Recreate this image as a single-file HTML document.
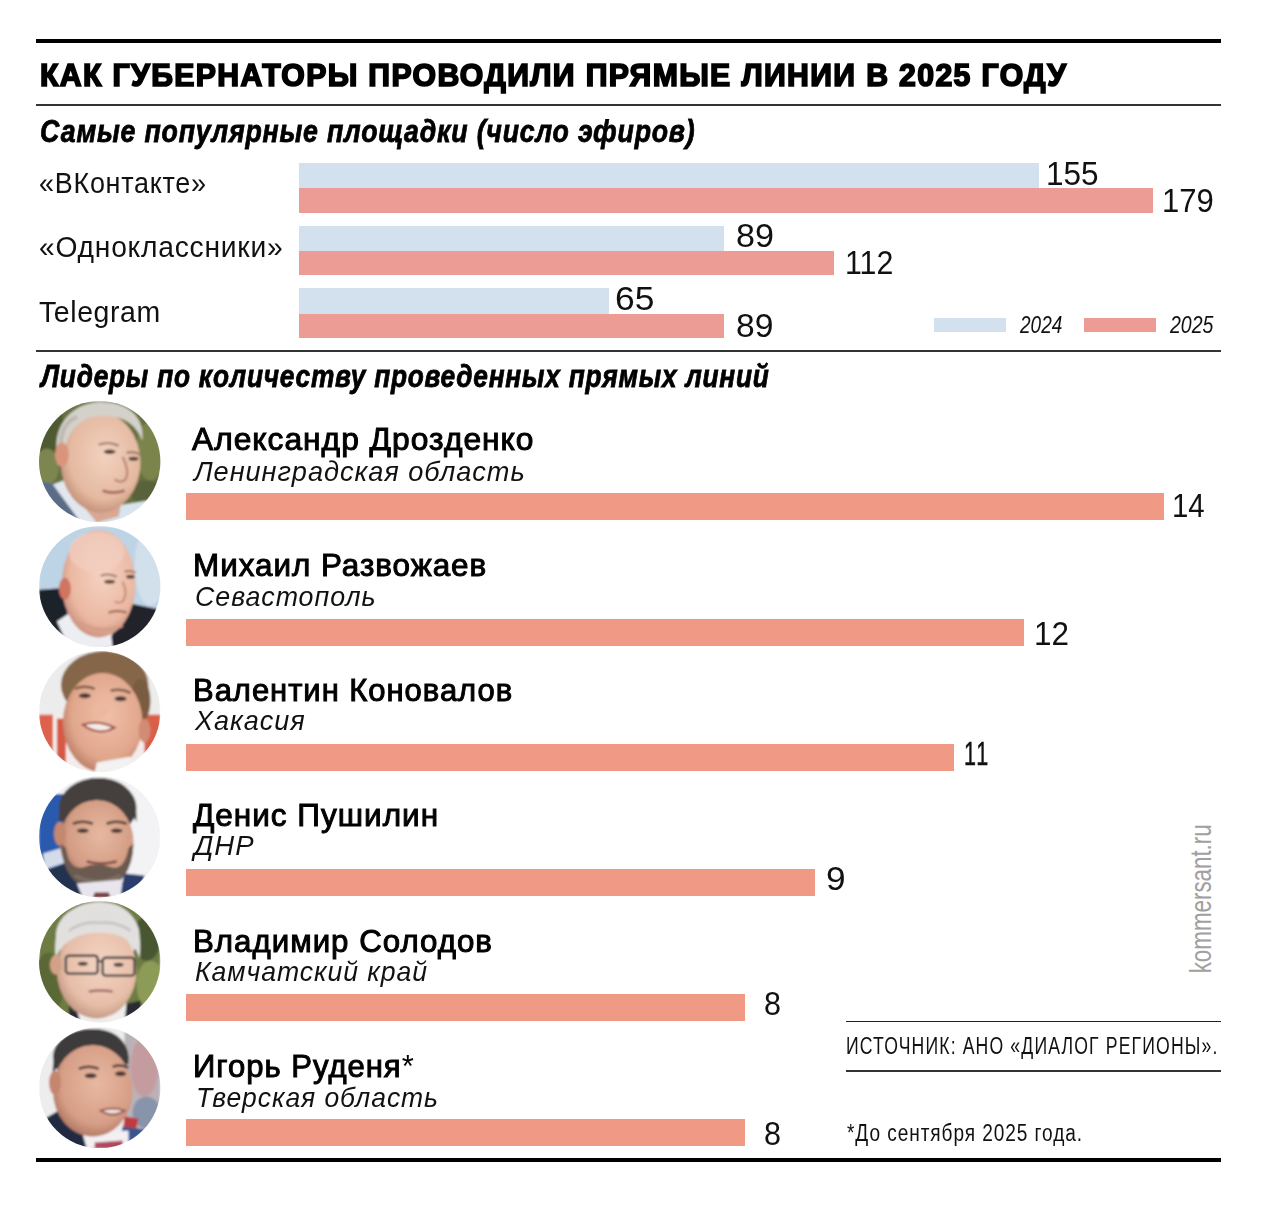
<!DOCTYPE html><html lang="ru"><head><meta charset="utf-8"><title>Как губернаторы проводили прямые линии в 2025 году</title><style>
*{margin:0;padding:0}html,body{width:1269px;height:1208px;overflow:hidden;background:#fff}
body{position:relative;font-family:'Liberation Sans',Arial,sans-serif}
.t{position:absolute;white-space:nowrap;line-height:1;transform-origin:0 0}
.b{position:absolute}
.ph{position:absolute}
.wm{position:absolute;white-space:nowrap;line-height:1;color:#a3a3a3;transform-origin:0 0}
</style></head><body>
<div class="b" style="left:36.00px;top:39.00px;width:1185.00px;height:4.00px;background:#000"></div>
<div class="b" style="left:36.00px;top:104.00px;width:1185.00px;height:2.00px;background:#333"></div>
<div class="b" style="left:36.00px;top:350.00px;width:1185.00px;height:2.00px;background:#333"></div>
<div class="b" style="left:36.00px;top:1158.00px;width:1185.00px;height:4.00px;background:#000"></div>
<div class="b" style="left:846.00px;top:1021.00px;width:375.00px;height:1.40px;background:#222"></div>
<div class="b" style="left:846.00px;top:1070.00px;width:375.00px;height:2.00px;background:#333"></div>
<div class="b" style="left:299.00px;top:163.00px;width:739.50px;height:25.00px;background:#d3e0ee"></div>
<div class="b" style="left:299.00px;top:188.00px;width:853.90px;height:25.00px;background:#ec9c94"></div>
<div class="b" style="left:299.00px;top:225.80px;width:424.60px;height:25.00px;background:#d3e0ee"></div>
<div class="b" style="left:299.00px;top:250.80px;width:534.60px;height:24.70px;background:#ec9c94"></div>
<div class="b" style="left:299.00px;top:288.20px;width:310.20px;height:25.70px;background:#d3e0ee"></div>
<div class="b" style="left:299.00px;top:313.90px;width:425.00px;height:24.60px;background:#ec9c94"></div>
<div class="b" style="left:934.00px;top:318.30px;width:72.00px;height:13.50px;background:#d3e0ee"></div>
<div class="b" style="left:1084.20px;top:318.30px;width:71.80px;height:13.50px;background:#ec9c94"></div>
<div class="b" style="left:186.20px;top:493.30px;width:978.00px;height:27.20px;background:#f09a86"></div>
<div class="b" style="left:186.20px;top:618.80px;width:838.10px;height:27.20px;background:#f09a86"></div>
<div class="b" style="left:186.20px;top:743.80px;width:768.10px;height:27.20px;background:#f09a86"></div>
<div class="b" style="left:186.20px;top:868.90px;width:629.10px;height:27.20px;background:#f09a86"></div>
<div class="b" style="left:186.20px;top:994.10px;width:558.50px;height:27.20px;background:#f09a86"></div>
<div class="b" style="left:186.20px;top:1119.10px;width:558.50px;height:27.20px;background:#f09a86"></div>
<div class="t" style="left:40.13px;top:60.45px;font-size:31.00px;font-weight:700;font-style:normal;color:#000;transform:scaleX(0.9747);-webkit-text-stroke:1.7px #000;letter-spacing:1.4px">КАК ГУБЕРНАТОРЫ ПРОВОДИЛИ ПРЯМЫЕ ЛИНИИ В 2025 ГОДУ</div>
<div class="t" style="left:39.82px;top:115.68px;font-size:30.50px;font-weight:700;font-style:italic;color:#000;transform:scaleX(0.8764);-webkit-text-stroke:0.8px #000;letter-spacing:0.9px">Самые популярные площадки (число эфиров)</div>
<div class="t" style="left:39.29px;top:168.47px;font-size:29.80px;font-weight:400;font-style:normal;color:#111;transform:scaleX(0.9055);letter-spacing:0.8px">«ВКонтакте»</div>
<div class="t" style="left:39.25px;top:232.37px;font-size:29.80px;font-weight:400;font-style:normal;color:#111;transform:scaleX(0.9475);letter-spacing:0.8px">«Одноклассники»</div>
<div class="t" style="left:38.84px;top:296.57px;font-size:29.80px;font-weight:400;font-style:normal;color:#111;transform:scaleX(0.9565);letter-spacing:0.6px">Telegram</div>
<div class="t" style="left:1046.13px;top:156.66px;font-size:33.00px;font-weight:400;font-style:normal;color:#111;transform:scaleX(0.9569);">155</div>
<div class="t" style="left:1161.98px;top:183.66px;font-size:33.00px;font-weight:400;font-style:normal;color:#111;transform:scaleX(0.9412);">179</div>
<div class="t" style="left:735.57px;top:219.36px;font-size:33.00px;font-weight:400;font-style:normal;color:#111;transform:scaleX(1.0324);">89</div>
<div class="t" style="left:844.64px;top:246.46px;font-size:33.00px;font-weight:400;font-style:normal;color:#111;transform:scaleX(0.9188);">112</div>
<div class="t" style="left:615.45px;top:282.06px;font-size:33.00px;font-weight:400;font-style:normal;color:#111;transform:scaleX(1.0727);">65</div>
<div class="t" style="left:735.58px;top:309.26px;font-size:33.00px;font-weight:400;font-style:normal;color:#111;transform:scaleX(1.0176);">89</div>
<div class="t" style="left:1019.70px;top:312.85px;font-size:23.80px;font-weight:400;font-style:italic;color:#111;transform:scaleX(0.7981);">2024</div>
<div class="t" style="left:1169.70px;top:312.85px;font-size:23.80px;font-weight:400;font-style:italic;color:#111;transform:scaleX(0.8208);">2025</div>
<div class="t" style="left:41.22px;top:360.98px;font-size:30.50px;font-weight:700;font-style:italic;color:#000;transform:scaleX(0.8613);-webkit-text-stroke:0.8px #000;letter-spacing:0.9px">Лидеры по количеству проведенных прямых линий</div>
<div class="t" style="left:192.10px;top:422.91px;font-size:32.00px;font-weight:400;font-style:normal;color:#000;transform:scaleX(0.9922);-webkit-text-stroke:1.0px #000;letter-spacing:1.0px">Александр Дрозденко</div>
<div class="t" style="left:193.86px;top:456.84px;font-size:28.30px;font-weight:400;font-style:italic;color:#111;transform:scaleX(0.9596);letter-spacing:1.0px">Ленинградская область</div>
<div class="t" style="left:1172.23px;top:488.96px;font-size:33.00px;font-weight:400;font-style:normal;color:#111;transform:scaleX(0.8909);">14</div>
<div class="t" style="left:192.64px;top:548.91px;font-size:32.00px;font-weight:400;font-style:normal;color:#000;transform:scaleX(0.9811);-webkit-text-stroke:1.0px #000;letter-spacing:1.0px">Михаил Развожаев</div>
<div class="t" style="left:195.21px;top:581.54px;font-size:28.30px;font-weight:400;font-style:italic;color:#111;transform:scaleX(0.9465);letter-spacing:1.0px">Севастополь</div>
<div class="t" style="left:1034.04px;top:616.86px;font-size:33.00px;font-weight:400;font-style:normal;color:#111;transform:scaleX(0.9531);">12</div>
<div class="t" style="left:193.26px;top:673.71px;font-size:32.00px;font-weight:400;font-style:normal;color:#000;transform:scaleX(0.9685);-webkit-text-stroke:1.0px #000;letter-spacing:1.0px">Валентин Коновалов</div>
<div class="t" style="left:195.20px;top:706.34px;font-size:28.30px;font-weight:400;font-style:italic;color:#111;transform:scaleX(0.9561);letter-spacing:1.0px">Хакасия</div>
<div class="t" style="left:963.59px;top:737.16px;font-size:33.00px;font-weight:400;font-style:normal;color:#111;transform:scaleX(0.6529);letter-spacing:3px;-webkit-text-stroke:0.5px #111">11</div>
<div class="t" style="left:192.70px;top:799.41px;font-size:32.00px;font-weight:400;font-style:normal;color:#000;transform:scaleX(0.9854);-webkit-text-stroke:1.0px #000;letter-spacing:1.0px">Денис Пушилин</div>
<div class="t" style="left:194.05px;top:831.04px;font-size:28.30px;font-weight:400;font-style:italic;color:#111;transform:scaleX(0.9730);letter-spacing:1.0px">ДНР</div>
<div class="t" style="left:826.17px;top:862.26px;font-size:33.00px;font-weight:400;font-style:normal;color:#111;transform:scaleX(1.0667);">9</div>
<div class="t" style="left:193.14px;top:924.91px;font-size:32.00px;font-weight:400;font-style:normal;color:#000;transform:scaleX(0.9779);-webkit-text-stroke:1.0px #000;letter-spacing:1.0px">Владимир Солодов</div>
<div class="t" style="left:195.36px;top:957.34px;font-size:28.30px;font-weight:400;font-style:italic;color:#111;transform:scaleX(0.9400);letter-spacing:1.0px">Камчатский край</div>
<div class="t" style="left:764.08px;top:986.66px;font-size:33.00px;font-weight:400;font-style:normal;color:#111;transform:scaleX(0.9250);">8</div>
<div class="t" style="left:192.96px;top:1049.91px;font-size:32.00px;font-weight:400;font-style:normal;color:#000;transform:scaleX(0.9711);-webkit-text-stroke:1.0px #000;letter-spacing:1.0px">Игорь Руденя<span style="-webkit-text-stroke:0;font-weight:400">*</span></div>
<div class="t" style="left:195.89px;top:1082.84px;font-size:28.30px;font-weight:400;font-style:italic;color:#111;transform:scaleX(0.9362);letter-spacing:1.0px">Тверская область</div>
<div class="t" style="left:764.08px;top:1116.56px;font-size:33.00px;font-weight:400;font-style:normal;color:#111;transform:scaleX(0.9250);">8</div>
<div class="t" style="left:846.37px;top:1034.09px;font-size:24.70px;font-weight:400;font-style:normal;color:#111;transform:scaleX(0.7138);letter-spacing:1.6px">ИСТОЧНИК: АНО «ДИАЛОГ РЕГИОНЫ».</div>
<div class="t" style="left:847.03px;top:1120.89px;font-size:24.70px;font-weight:400;font-style:normal;color:#111;transform:scaleX(0.7728);letter-spacing:1.2px">*До сентября 2025 года.</div>
<svg class="ph" style="left:39.25px;top:400.60px" width="121.4" height="121.4" viewBox="0 0 122 122"><defs><radialGradient id="sk0" cx="0.55" cy="0.42" r="0.62"><stop offset="0" stop-color="#f2d2c0"/><stop offset="0.72" stop-color="#e4b9a0"/><stop offset="1" stop-color="#c08a74"/></radialGradient><clipPath id="c0"><circle cx="61" cy="61" r="61"/></clipPath><filter id="f0" x="-5%" y="-5%" width="110%" height="110%"><feGaussianBlur stdDeviation="1.3"/></filter></defs><g clip-path="url(#c0)"><g filter="url(#f0)"><rect width="122" height="122" fill="#66703f"/><ellipse cx="10" cy="30" rx="16" ry="26" fill="#4f5a32"/><ellipse cx="8" cy="66" rx="12" ry="18" fill="#7d8650"/><ellipse cx="112" cy="50" rx="14" ry="30" fill="#7a844c"/><ellipse cx="108" cy="92" rx="16" ry="12" fill="#58633a"/><polygon points="60,108 122,98 122,122 60,122" fill="#d8e4ee"/><polygon points="0,80 16,84 44,122 0,122" fill="#5a6c88"/><polygon points="14,84 30,78 66,122 42,122" fill="#e2e7ef"/><polygon points="44,92 84,96 80,116 58,122 48,110" fill="#d9a892"/><ellipse cx="62" cy="62" rx="40" ry="50" fill="url(#sk0)"/><path d="M18,52 C14,22 36,1 62,1 C88,1 106,14 104,40 C98,24 86,16 68,15 C50,14 34,22 27,44 Z" fill="#d4d0ca"/><path d="M22,44 C22,30 28,20 38,16" stroke="#bdb8b0" stroke-width="4" fill="none"/><ellipse cx="23" cy="54" rx="7" ry="12" fill="#d8957c"/><path d="M60,44 Q70,40 80,45" stroke="#9a7a6a" stroke-width="2.2" fill="none"/><path d="M88,52 Q96,50 102,54" stroke="#9a7a6a" stroke-width="2.2" fill="none"/><ellipse cx="71" cy="51" rx="6" ry="2.2" fill="#5a3e34"/><ellipse cx="95" cy="58" rx="5" ry="2" fill="#5a3e34"/><path d="M84,56 Q92,72 86,80 Q80,82 76,79" stroke="#c08a78" stroke-width="2.5" fill="none"/><path d="M64,90 Q74,94 86,90" stroke="#a86a62" stroke-width="3" fill="none"/></g></g></svg>
<svg class="ph" style="left:39.25px;top:525.80px" width="121.4" height="121.4" viewBox="0 0 122 122"><defs><radialGradient id="sk1" cx="0.55" cy="0.42" r="0.62"><stop offset="0" stop-color="#f6d2c2"/><stop offset="0.72" stop-color="#eab8a2"/><stop offset="1" stop-color="#c88c7a"/></radialGradient><clipPath id="c1"><circle cx="61" cy="61" r="61"/></clipPath><filter id="f1" x="-5%" y="-5%" width="110%" height="110%"><feGaussianBlur stdDeviation="1.3"/></filter></defs><g clip-path="url(#c1)"><g filter="url(#f1)"><rect width="122" height="122" fill="#bdd3e6"/><ellipse cx="112" cy="40" rx="16" ry="40" fill="#d2e0ec"/><polygon points="0,64 28,62 30,122 0,122" fill="#1e222a"/><polygon points="92,78 122,84 122,122 66,122" fill="#20242c"/><polygon points="18,96 36,84 72,104 74,122 30,122" fill="#eceef2"/><ellipse cx="60" cy="58" rx="37" ry="54" fill="url(#sk1)"/><ellipse cx="58" cy="26" rx="28" ry="20" fill="#f2cec0" opacity="0.7"/><ellipse cx="26" cy="63" rx="6" ry="11" fill="#d07462"/><path d="M62,50 Q70,47 78,51" stroke="#a07868" stroke-width="2" fill="none"/><path d="M86,46 Q92,44 97,47" stroke="#a07868" stroke-width="2" fill="none"/><ellipse cx="71" cy="56" rx="5.5" ry="2" fill="#5e4436"/><ellipse cx="92" cy="51" rx="4.5" ry="2" fill="#5e4436"/><path d="M84,56 Q90,68 84,76 Q80,78 76,76" stroke="#c8907c" stroke-width="2.2" fill="none"/><path d="M70,87 Q79,84 88,87" stroke="#a86a5a" stroke-width="2.5" fill="none"/><path d="M40,96 Q60,110 84,100" stroke="#d69c88" stroke-width="3" fill="none"/></g></g></svg>
<svg class="ph" style="left:39.25px;top:651.00px" width="121.4" height="121.4" viewBox="0 0 122 122"><defs><radialGradient id="sk2" cx="0.55" cy="0.42" r="0.62"><stop offset="0" stop-color="#f0c0a8"/><stop offset="0.72" stop-color="#e0a68c"/><stop offset="1" stop-color="#b87860"/></radialGradient><clipPath id="c2"><circle cx="61" cy="61" r="61"/></clipPath><filter id="f2" x="-5%" y="-5%" width="110%" height="110%"><feGaussianBlur stdDeviation="1.3"/></filter></defs><g clip-path="url(#c2)"><g filter="url(#f2)"><rect width="122" height="122" fill="#ececec"/><rect x="0" y="64" width="122" height="58" fill="#f4ecea"/><rect x="0" y="64" width="14" height="58" fill="#de624c"/><rect x="18" y="68" width="9" height="54" fill="#d65844"/><rect x="106" y="64" width="16" height="58" fill="#da5e48"/><ellipse cx="66" cy="34" rx="44" ry="34" fill="#86664a"/><ellipse cx="102" cy="50" rx="10" ry="22" fill="#7a5c40"/><ellipse cx="64" cy="72" rx="40" ry="50" fill="url(#sk2)"/><ellipse cx="106" cy="80" rx="6" ry="12" fill="#d08c74"/><polygon points="58,112 92,106 96,122 56,122" fill="#f2f2f2"/><path d="M36,38 Q46,34 56,38" stroke="#7a5a44" stroke-width="2.5" fill="none"/><path d="M72,40 Q82,37 92,42" stroke="#7a5a44" stroke-width="2.5" fill="none"/><ellipse cx="46" cy="45" rx="6" ry="2.5" fill="#4a3a38"/><ellipse cx="82" cy="48" rx="6" ry="2.5" fill="#4a3a38"/><ellipse cx="62" cy="60" rx="8" ry="7" fill="#ecb8a0"/><path d="M44,74 Q60,69 76,77 Q60,86 44,74 Z" fill="#f6ece6" stroke="#9e5048" stroke-width="2"/></g></g></svg>
<svg class="ph" style="left:39.25px;top:776.20px" width="121.4" height="121.4" viewBox="0 0 122 122"><defs><radialGradient id="sk3" cx="0.55" cy="0.42" r="0.62"><stop offset="0" stop-color="#e6b8a0"/><stop offset="0.72" stop-color="#d49c84"/><stop offset="1" stop-color="#a87058"/></radialGradient><clipPath id="c3"><circle cx="61" cy="61" r="61"/></clipPath><filter id="f3" x="-5%" y="-5%" width="110%" height="110%"><feGaussianBlur stdDeviation="1.3"/></filter></defs><g clip-path="url(#c3)"><g filter="url(#f3)"><rect width="122" height="122" fill="#f3f3f5"/><polygon points="0,18 28,18 30,100 0,100" fill="#2c5aae"/><polygon points="4,78 30,70 30,86 6,94" fill="#d4dcea"/><polygon points="8,94 38,84 52,122 18,122" fill="#243050"/><polygon points="86,98 106,100 100,122 80,122" fill="#2a3c6c"/><ellipse cx="59" cy="32" rx="39" ry="30" fill="#45413e"/><ellipse cx="58" cy="66" rx="37" ry="42" fill="url(#sk3)"/><path d="M20,50 C18,18 38,2 60,2 C84,2 100,16 98,46 C92,32 80,24 60,24 C40,24 26,34 20,50 Z" fill="#45413e"/><ellipse cx="21" cy="58" rx="6" ry="12" fill="#c4886e"/><path d="M22,68 Q24,110 58,116 Q94,110 95,68 L90,72 Q86,94 74,92 Q58,86 44,92 Q30,94 27,72 Z" fill="#6a5a50"/><path d="M36,100 Q58,112 82,100" stroke="#8a7a70" stroke-width="4" fill="none" opacity="0.6"/><polygon points="38,108 84,104 82,122 44,122" fill="#e9e5ee"/><polygon points="56,117 70,117 72,122 54,122" fill="#7a3c3e"/><path d="M34,48 Q44,44 54,48" stroke="#4e3e36" stroke-width="2.5" fill="none"/><path d="M68,48 Q78,44 88,48" stroke="#4e3e36" stroke-width="2.5" fill="none"/><ellipse cx="44" cy="55" rx="6" ry="2.2" fill="#4a3a34"/><ellipse cx="78" cy="55" rx="6" ry="2.2" fill="#4a3a34"/><path d="M48,86 Q62,90 78,86" stroke="#7a4a42" stroke-width="2.5" fill="none"/></g></g></svg>
<svg class="ph" style="left:39.25px;top:901.40px" width="121.4" height="121.4" viewBox="0 0 122 122"><defs><radialGradient id="sk4" cx="0.55" cy="0.42" r="0.62"><stop offset="0" stop-color="#f4d4c4"/><stop offset="0.72" stop-color="#e6bea8"/><stop offset="1" stop-color="#c0927c"/></radialGradient><clipPath id="c4"><circle cx="61" cy="61" r="61"/></clipPath><filter id="f4" x="-5%" y="-5%" width="110%" height="110%"><feGaussianBlur stdDeviation="1.3"/></filter></defs><g clip-path="url(#c4)"><g filter="url(#f4)"><rect width="122" height="122" fill="#6d7c42"/><ellipse cx="10" cy="82" rx="16" ry="30" fill="#5a6836"/><ellipse cx="112" cy="84" rx="14" ry="24" fill="#8c9c56"/><ellipse cx="108" cy="38" rx="14" ry="22" fill="#4a5630"/><polygon points="84,104 102,100 104,122 80,122" fill="#2a2a30"/><polygon points="30,104 44,100 50,122 30,122" fill="#2a2a30"/><polygon points="36,104 88,102 86,122 42,122" fill="#f0eeee"/><ellipse cx="59" cy="34" rx="42" ry="32" fill="#e2e0de"/><ellipse cx="58" cy="70" rx="40" ry="48" fill="url(#sk4)"/><path d="M17,58 C12,20 34,1 60,1 C88,1 106,18 101,58 C96,42 86,32 60,32 C38,32 22,42 17,58 Z" fill="#e2e0de"/><path d="M30,30 Q44,20 60,22 Q78,20 92,30" stroke="#c8c6c4" stroke-width="3" fill="none"/><ellipse cx="17" cy="64" rx="6" ry="10" fill="#d4a088"/><rect x="27" y="55" width="32" height="18" rx="3" fill="none" stroke="#46423e" stroke-width="2.4"/><rect x="64" y="57" width="32" height="18" rx="3" fill="none" stroke="#46423e" stroke-width="2.4"/><line x1="59" y1="60" x2="64" y2="61" stroke="#46423e" stroke-width="2"/><ellipse cx="44" cy="63" rx="5" ry="2" fill="#4e3e38"/><ellipse cx="80" cy="64" rx="5" ry="2" fill="#4e3e38"/><path d="M50,91 Q62,89 74,91" stroke="#a07068" stroke-width="2.5" fill="none"/></g></g></svg>
<svg class="ph" style="left:39.25px;top:1026.60px" width="121.4" height="121.4" viewBox="0 0 122 122"><defs><radialGradient id="sk5" cx="0.55" cy="0.42" r="0.62"><stop offset="0" stop-color="#e8b8a2"/><stop offset="0.72" stop-color="#d69e86"/><stop offset="1" stop-color="#ac7460"/></radialGradient><clipPath id="c5"><circle cx="61" cy="61" r="61"/></clipPath><filter id="f5" x="-5%" y="-5%" width="110%" height="110%"><feGaussianBlur stdDeviation="1.3"/></filter></defs><g clip-path="url(#c5)"><g filter="url(#f5)"><rect width="122" height="122" fill="#ededee"/><rect x="86" y="0" width="36" height="122" fill="#bab2b8"/><ellipse cx="106" cy="40" rx="14" ry="30" fill="#c49ca0"/><ellipse cx="108" cy="86" rx="14" ry="16" fill="#8894aa"/><polygon points="86,90 100,92 96,110 84,106" fill="#c03a40"/><polygon points="6,92 30,78 58,122 18,122" fill="#242a42"/><polygon points="84,100 114,104 100,122 80,122" fill="#3a548e"/><polygon points="44,108 90,104 90,122 48,122" fill="#f2f0f2"/><polygon points="56,116 84,114 84,122 56,122" fill="#b04a60"/><ellipse cx="52" cy="30" rx="38" ry="28" fill="#3c3a3a"/><ellipse cx="54" cy="64" rx="40" ry="46" fill="url(#sk5)"/><path d="M14,48 C12,18 32,2 54,2 C76,2 92,14 90,38 C82,26 70,18 54,18 C36,18 22,30 14,48 Z" fill="#3c3a3a"/><ellipse cx="16" cy="56" rx="6" ry="12" fill="#c4866e"/><path d="M40,42 Q50,38 60,42" stroke="#4e3a34" stroke-width="2.5" fill="none"/><path d="M74,40 Q82,37 90,41" stroke="#4e3a34" stroke-width="2.5" fill="none"/><ellipse cx="52" cy="49" rx="6" ry="2.5" fill="#4a3a34"/><ellipse cx="82" cy="47" rx="5.5" ry="2.5" fill="#4a3a34"/><path d="M62,84 Q74,80 86,84 Q74,92 62,84 Z" fill="#f0e6e0" stroke="#9a5a52" stroke-width="2"/></g></g></svg>
<svg class="ph" style="left:1180px;top:815px" width="40" height="170" viewBox="1180 815 40 170"><text x="0" y="0" transform="translate(1210.8,973.3) rotate(-90)" font-family="Liberation Sans, Arial, sans-serif" font-size="28.6" fill="#a0a0a0" textLength="149" lengthAdjust="spacingAndGlyphs">kommersant.ru</text></svg>
</body></html>
